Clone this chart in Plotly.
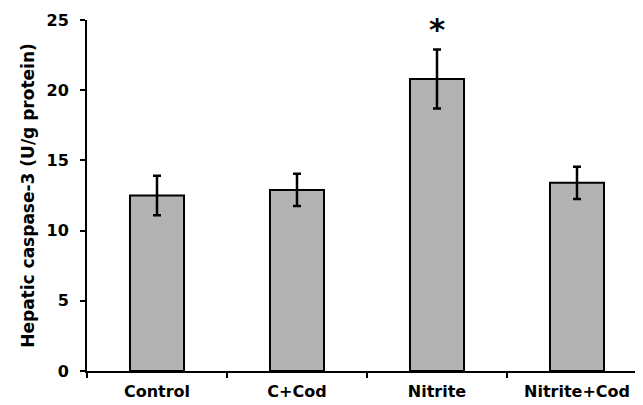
import plotly.graph_objects as go

categories = ["Control", "C+Cod", "Nitrite", "Nitrite+Cod"]
means = [12.5, 12.9, 20.8, 13.4]
errors = [1.4, 1.15, 2.1, 1.15]
y_ticks = [0, 5, 10, 15, 20, 25]
significance = ["", "", "*", ""]

FONT = "DejaVu Sans"

fig = go.Figure()
fig.add_trace(go.Bar(
    x=categories, y=means,
    marker=dict(color="#b3b3b3", line=dict(color="black", width=2)),
    error_y=dict(type="data", array=errors, color="black", thickness=2.5, width=4),
    width=0.386,
))

for c, m, e, s in zip(categories, means, errors, significance):
    if s:
        fig.add_annotation(x=c, y=m + e, text=s, showarrow=False, yanchor="bottom",
                           yshift=0, font=dict(family=FONT, size=31, color="black",
                                               weight="bold"))

fig.update_layout(
    width=643, height=405,
    margin=dict(l=79, r=4, t=12, b=42),
    plot_bgcolor="white", paper_bgcolor="white",
    showlegend=False,
    font=dict(family=FONT, color="black"),
)
fig.update_xaxes(
    range=[-0.5, 3.5],
    showline=True, linecolor="black", linewidth=2,
    ticks="outside", tickson="boundaries", ticklen=5, tickwidth=2, tickcolor="black",
    tickfont=dict(size=16, family=FONT, weight="bold"),
    ticklabelstandoff=5,
    showgrid=False,
)
fig.update_yaxes(
    range=[0, 25], tickvals=y_ticks,
    showline=True, linecolor="black", linewidth=2,
    ticks="outside", ticklen=5, tickwidth=2, tickcolor="black",
    tickfont=dict(size=16, family=FONT, weight="bold"),
    ticklabelstandoff=8,
    showgrid=False, zeroline=False,
    title=dict(text="Hepatic caspase-3 (U/g protein)", standoff=8,
               font=dict(size=17, family=FONT, weight="bold")),
)
fig.write_html("out.html")
